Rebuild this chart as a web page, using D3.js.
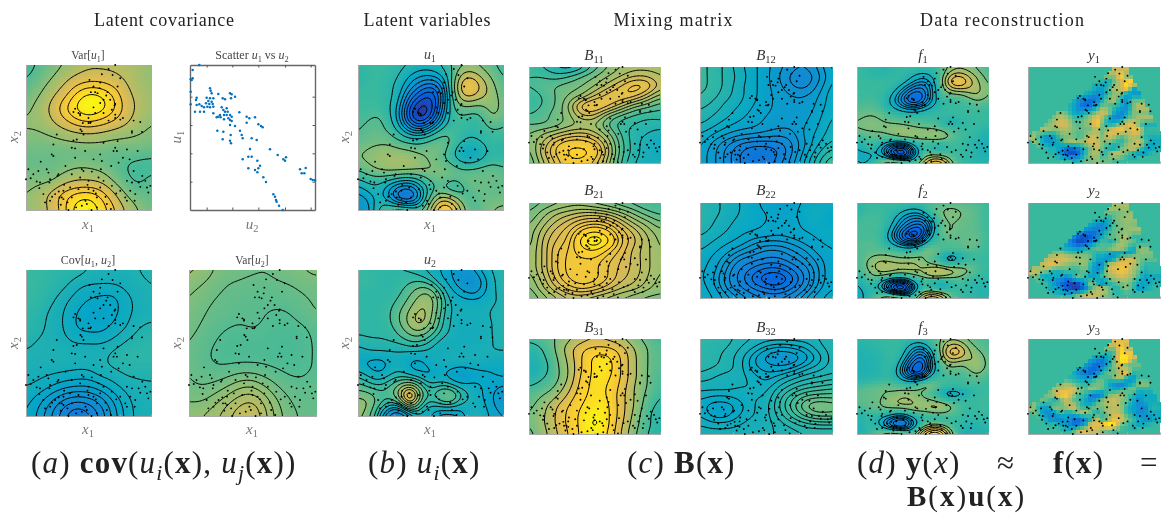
<!DOCTYPE html>
<html>
<head>
<meta charset="utf-8">
<script src="https://cdn.jsdelivr.net/npm/d3@7"></script>
<style>
html,body{margin:0;padding:0;background:#fff;}
svg{display:block;filter:blur(0.35px);font-family:"Liberation Serif",serif;}
</style>
</head>
<body>
<svg id="fig" width="1161" height="513"></svg>
<script>
// colour map stops (parula like)
var cmapStops = [0,0.125,0.25,0.375,0.5,0.625,0.75,0.875,1];
var cmapColors = ["#352a87","#0363e1","#1485d4","#06a7c6","#38b99e","#92bf73","#d9ba56","#fcce2e","#f9fb0e"];

// fields, rows top to bottom, values in percent of colour range
var varU1 = [
[50,54,58,62,66,69,69,69,68,66,62],
[53,57,62,68,74,77,77,74,70,66,63],
[57,61,68,76,88,95,93,86,74,68,64],
[60,65,73,85,95,100,97,89,77,69,65],
[63,64,69,76,83,86,83,78,72,66,62],
[60,60,61,63,65,66,65,63,62,61,60],
[57,57,57,57,57,57,57,56,56,56,55],
[57,57,57,59,61,61,59,56,53,51,51],
[60,60,61,67,71,71,69,61,55,52,55],
[62,66,74,84,90,92,86,74,62,57,56],
[64,66,73,84,97,100,92,82,70,62,58]];
var varU1Levels = [53,62,71,80,87,94];

var covU = [
[50,49,48,47,46,44,43,43,43,44,45],
[50,49,47,45,42,41,41,41,42,43,44],
[49,48,45,42,40,38,37,37,40,42,43.5],
[48,46,43,41,38,36,36,37,40,42,43],
[47,45,43,41,38,37,37,39,41,44,45],
[44.5,43.5,43,42,41,41,41,42,44.5,46,47],
[43.5,43.5,43.5,43.5,43,43,43,45.5,47,47.5,47.5],
[42.5,42,41.5,41,40.5,40.5,42.5,43,44.5,45,45],
[41,40,38,36,35,35,37,40,42,43,43.5],
[39,36,32,28,26,27,30,35,40,42,43],
[38,34,29,24,20,22,27,33,39,42,43]];
var covULevels = [44,41,38,35,32,29,26,23];

var varU2 = [
[64,62,60,58.5,58,57.5,57.2,58,59,60,61],
[61,60,58.5,57,56.5,56,56,56.5,57,58,58.5],
[60,58.5,57,56,55.5,55,55,55,55.5,56.5,57.5],
[59,57.5,56,55.5,55,55,54,53.5,54,55.5,57],
[58,56.5,55,54,53.5,54,53.5,53,53,53.5,55],
[57,55.5,54,53,53,53,53,52.5,52.5,53,54.5],
[57,55,53.5,53,53,53,53,52.5,52.5,53,54.5],
[57,56,55,55.5,56.5,56.5,55.5,54.5,53.5,53.5,54.5],
[57.5,57,58,60,62.5,63,60,57,55.5,55,56],
[60,60,62,65,68,69,65,60,57,56,56],
[62,63,65,68,71,72,67,61.5,58,56.5,56.5]];
var varU2Levels = [54,57,60,63,66,69];

var latentU1 = [
[48,50,50,49,48,46,44,44,46,54,58,60,58,54,50],
[46,49,50,49,46,40,36,36,40,50,70,72,64,58,52],
[48,50,50,47,44,34,26,20,28,52,80,84,72,62,54],
[50,50,50,48,42,24,14,8,22,50,74,76,68,64,56],
[50,50,50,47,38,14,4,4,26,50,60,58,58,64,57],
[52,52,54,48,36,10,0,8,32,50,52,50,52,62,56],
[52,54,56,50,42,26,18,30,44,50,50,48,50,55,52],
[54,56,56,56,50,46,46,50,56,54,48,46,48,50,50],
[58,60,62,62,60,58,56,60,58,50,42,40,44,48,46],
[60,62,64,66,66,66,62,58,54,48,40,38,44,50,48],
[54,58,62,64,64,64,62,62,60,58,54,54,56,56,54],
[46,50,50,48,44,42,48,54,58,54,56,58,56,58,56],
[36,42,44,34,24,22,34,50,54,46,50,56,58,54,56],
[32,34,44,36,20,16,32,56,74,70,56,52,56,58,58],
[30,32,48,56,62,60,52,68,92,88,66,52,58,60,62]];
var latentU1Levels = [5,10,15,20,25,30,35,40,46,53,60,67,74,81,88];

var latentU2 = [
[50,48,48,48,47,46,44,41,38,34,30,34,40,44,46],
[50,50,48,47,48,50,50,46,38,36,28,26,34,42,46],
[48,48,48,47,50,54,60,60,48,38,36,30,36,42,46],
[48,48,48,49,52,58,64,66,52,42,40,40,40,42,44],
[48,48,48,50,56,62,68,64,50,42,42,42,42,44,45],
[48,48,48,50,56,64,70,62,48,42,41,41,41,43,45],
[48,48,48,48,52,58,60,54,46,42,41,41,42,43,45],
[44,46,46,47,47,50,50,45,40,41,41,41,41,43,44],
[40,42,42,42,42,41,41,41,41,42,42,42,43,43,43],
[38,36,34,38,42,37,36,40,42,42,42,42,41,39,38],
[46,42,38,42,44,40,38,36,38,34,30,34,36,38,40],
[52,48,46,50,56,62,52,42,46,42,38,40,38,36,34],
[60,60,54,54,64,92,62,50,60,62,48,42,38,34,30],
[64,62,52,44,42,70,48,42,44,46,40,42,40,34,32],
[62,58,44,24,14,30,42,38,30,30,34,44,42,36,34]];
var latentU2Levels = [22,28,34,38,43,47,51,56,61,66,70,74,78,82];

var mixB11 = [
[50,48,44,42,46,54,60,64,66,66,66],
[52,52,50,52,56,60,64,68,72,72,68],
[52,54,56,58,60,64,70,76,82,80,70],
[50,52,56,60,64,72,78,80,78,70,62],
[50,52,56,64,78,82,78,70,62,58,54],
[52,54,58,62,72,72,62,56,52,50,50],
[56,56,58,62,64,64,56,50,48,46,46],
[60,64,68,72,74,70,62,52,46,44,42],
[60,68,78,84,84,80,68,54,46,42,40],
[58,70,80,88,90,84,70,54,46,42,40],
[56,66,76,84,84,78,66,52,44,42,42]];
var mixB11Levels = [44,48,52,56,60,64,68,72,76,80,87];

var mixB12 = [
[50,48,45,41,38,35,32,29,28,32,38],
[50,48,45,42,38,35,31,27,26,30,37],
[50,48,45,41,38,35,32,28,27,32,38],
[49,47,44,41,38,35,33,31,31,34,39],
[47,45,42,40,37,35,33,32,32,35,39],
[45,43,41,38,36,34,33,32,33,36,40],
[43,41,38,36,35,33,32,32,34,37,41],
[40,37,34,32,31,30,29,30,35,38,42],
[38,33,29,25,23,23,24,28,34,40,44],
[36,32,27,22,20,20,22,28,36,43,48],
[36,32,27,22,20,20,24,30,38,46,52]];
var mixB12Levels = [22,25,28,31,34,37,40,43,46,49];

var mixB21 = [
[56,58,60,62,62,60,58,56,54,52,52],
[58,62,66,68,70,70,68,64,60,56,54],
[60,65,70,74,78,80,78,72,66,62,58],
[62,68,74,78,86,90,86,78,72,66,62],
[62,70,76,80,92,98,92,80,74,68,63],
[64,70,78,82,88,90,84,78,72,68,64],
[64,70,78,83,84,84,80,76,72,68,64],
[64,70,78,83,84,83,79,75,72,68,64],
[62,68,76,82,84,83,79,74,71,67,63],
[60,66,72,77,80,78,74,70,68,65,62],
[58,62,66,70,70,68,66,64,62,60,60]];
var mixB21Levels = [55,58,61,64,67,70,73,76,79,82,85,90,94];

var mixB22 = [
[46,44,42,40,38,36,34,35,38,39,40],
[46,44,42,40,38,37,36,36,39,40,37],
[46,43,41,39,38,37,36,36,38,39,37],
[44,42,40,38,37,36,35,36,37,38,39],
[42,40,38,36,33,32,32,33,35,37,38],
[40,38,35,32,30,28,28,30,32,35,37],
[39,36,32,28,26,24,24,27,30,33,36],
[38,35,30,25,21,18,18,22,27,32,36],
[38,34,29,24,18,14,13,18,26,32,36],
[39,35,30,26,22,19,18,22,28,33,37],
[40,37,33,30,27,25,25,28,32,36,39]];
var mixB22Levels = [16,19,22,25,28,30,32,34,37,40,43];

var mixB31 = [
[52,54,58,64,70,74,72,68,60,56,52],
[46,50,58,70,80,84,84,78,66,58,54],
[44,48,56,68,82,92,92,82,68,58,54],
[42,46,55,66,82,92,94,82,68,58,54],
[45,49,55,66,84,92,92,82,68,58,52],
[50,53,58,70,86,92,90,80,66,58,52],
[54,58,64,76,88,92,90,78,66,56,50],
[56,62,72,82,90,94,92,78,66,54,48],
[58,64,74,84,92,98,92,78,64,52,46],
[58,64,74,84,92,100,92,76,62,52,46],
[56,62,72,82,92,96,90,74,60,50,46]];
var mixB31Levels = [50,58,66,74,82,90,98];

var mixB32 = [
[47,47,46,44,43,42,42,42,42,43,45],
[47,46,45,43,41,38,36,37,39,42,44],
[47,46,44,42,38,33,30,31,36,40,44],
[46,45,44,42,38,36,35,37,40,42,44],
[44,43,42,42,40,38,40,42,44,45,46],
[42,42,42,41,41,40,43,46,48,49,50],
[40,39,39,40,41,41,46,50,53,54,54],
[38,36,36,38,41,42,47,52,57,59,58],
[39,36,36,39,41,42,46,50,54,56,56],
[41,40,40,41,42,42,44,46,48,49,49],
[42,42,42,42,42,43,43,44,45,45,45]];
var mixB32Levels = [31,34,37,39,41,43,45,47,49,51,53,55,57];

var reconF1 = [
[50,48,47,46,48,50,50,50,50,52,60,62,60,56,52],
[50,48,46,46,48,48,44,40,44,52,68,72,66,60,54],
[50,50,50,50,50,46,38,32,38,54,82,86,74,64,56],
[50,50,50,50,46,36,26,22,34,54,70,74,70,66,58],
[50,50,50,48,40,26,16,18,34,52,56,56,62,66,57],
[52,52,52,46,36,22,12,20,36,48,50,50,54,58,54],
[54,54,54,48,42,36,32,38,44,48,50,50,50,52,50],
[56,58,58,54,50,48,48,48,50,50,50,50,50,50,50],
[58,60,60,58,56,55,54,52,52,48,40,46,50,50,50],
[58,60,60,60,64,62,60,58,58,54,50,50,50,48,46],
[52,54,56,56,60,66,64,66,66,68,58,52,50,46,44],
[44,50,52,44,38,36,50,50,52,50,52,50,48,44,42],
[40,48,46,26,14,8,30,52,44,42,50,50,48,44,42],
[42,34,44,36,12,4,30,52,62,60,52,50,48,44,44],
[44,42,54,64,72,66,54,66,84,84,62,50,48,46,46]];

var reconF2 = [
[48,50,50,50,50,50,50,50,52,54,54,54,54,52,50],
[44,50,50,50,48,44,40,44,54,58,60,58,56,54,50],
[50,52,52,50,44,34,30,30,46,56,62,58,56,54,50],
[52,52,52,50,40,28,22,20,36,54,58,56,56,54,50],
[52,52,52,48,34,20,12,12,36,56,60,56,56,54,50],
[52,52,52,46,30,14,4,20,44,52,56,54,56,56,50],
[54,54,54,48,40,30,28,38,52,52,54,54,60,54,50],
[52,54,54,54,52,50,50,58,62,52,52,52,52,52,50],
[52,56,60,60,58,56,56,58,54,46,34,42,50,50,50],
[52,58,66,68,66,66,68,60,56,50,44,50,52,50,50],
[50,56,64,68,66,64,64,66,74,78,70,66,60,52,50],
[46,52,58,52,44,44,54,56,62,60,58,56,50,48,48],
[40,50,46,24,12,6,32,50,40,34,44,52,48,46,46],
[38,44,48,38,14,6,34,54,58,52,50,50,48,46,46],
[38,44,54,68,72,64,52,78,86,80,58,50,48,46,46]];

var reconF3 = [
[48,48,48,50,50,50,48,48,52,58,62,60,56,54,52],
[45,46,47,49,50,46,38,36,48,60,74,72,60,56,52],
[44,45,46,48,50,44,30,24,40,60,84,80,64,60,54],
[44,44,45,48,50,38,22,14,36,58,70,66,64,64,54],
[44,44,45,48,48,30,14,10,36,52,60,56,60,66,54],
[44,44,45,48,46,28,12,16,40,50,54,52,56,60,52],
[46,46,48,50,48,40,36,40,52,52,50,50,52,54,50],
[52,54,56,58,56,54,54,62,62,50,50,50,50,50,50],
[54,56,56,58,58,62,60,56,50,42,36,38,44,50,50],
[54,56,56,60,64,66,64,60,58,52,46,48,50,50,52],
[54,56,56,60,62,64,64,66,68,68,62,52,50,50,50],
[44,48,52,50,44,42,54,52,56,58,54,50,48,50,50],
[44,50,44,32,22,18,34,50,44,44,50,50,46,48,48],
[44,46,50,36,20,18,36,56,70,68,52,48,44,46,46],
[44,46,54,64,72,64,54,82,100,94,64,44,42,44,46]];
var reconLevels = [8,12,16,20,24,28,32,36,42,58,64,70,76,82,88,94];

// observed data, 22 x 16 raster, each row starts at dataRowStart
var dataRowStart = [15,14,12,10,8,6,5,4,3,2,1,0,1,2,4,6];
var dataY1 = [
[72],
[62,86,60],
[44,40,60,70,88],
[48,38,36,52,66,72,84,44],
[46,42,36,28,34,50,62,58,38,34],
[50,44,30,22,18,24,46,60,64,42,32,54],
[52,46,40,26,18,22,40,58,54,48,40,30,56,70],
[56,60,54,40,34,40,46,60,72,62,40,26,36,58,60],
[54,62,70,66,52,50,56,66,80,64,42,28,30,52,60,66],
[56,60,68,74,72,58,54,60,64,84,56,44,48,62,74,78,60,44],
[60,66,62,58,64,66,60,56,58,60,70,56,70,78,82,70,78,80,50],
[70,56,40,32,40,56,60,58,52,60,72,70,60,74,66,56,62,70,64,48,44],
[60,40,32,36,46,60,64,62,66,74,72,60,58,52,48,58,66,72,52,40],
[52,44,42,34,22,18,28,46,60,72,56,44,42,56,66,70,60,40,36,44],
[46,30,14,10,20,44,62,66,48,58,70,66,54,44,36,38,48,50],
[50,40,44,56,58,62,56,58,50,46]];
var dataY2 = [
[66],
[58,60,62],
[48,44,56,60,64],
[40,30,28,40,54,60,62,60],
[44,30,24,22,30,44,56,58,62,64],
[46,30,16,10,14,24,42,54,56,62,66,50],
[48,34,18,8,12,22,38,52,44,50,64,60,56,48],
[50,44,40,34,30,38,46,56,54,58,66,66,56,40,60],
[58,60,64,56,52,52,56,52,44,46,40,34,38,36,42,60],
[66,70,72,74,72,68,64,62,56,40,36,30,44,66,72,74,60,56],
[60,70,76,74,68,62,58,60,62,46,30,32,66,74,80,78,70,60,48],
[72,70,62,56,44,46,52,48,50,56,42,30,44,68,76,82,78,66,56,44,48],
[56,40,38,40,36,28,42,56,46,36,40,52,62,68,74,70,62,50,36,40],
[54,44,30,18,12,8,14,36,60,44,30,44,54,58,62,52,40,36,42,46],
[40,30,16,8,10,24,50,66,70,58,44,52,60,50,34,42,46,50],
[46,50,60,70,72,70,62,58,50,48]];
var dataY3 = [
[78],
[62,88,70],
[46,44,56,90,84],
[36,26,24,40,60,92,92,62],
[44,34,22,16,26,42,62,70,58,56],
[48,42,28,22,16,24,44,56,58,72,80,50],
[56,48,46,40,34,36,50,54,50,60,66,42,34,50],
[56,60,66,58,50,48,52,58,56,40,30,26,34,44,60],
[52,66,70,74,78,66,54,62,58,52,46,40,44,54,60,46],
[56,60,68,82,84,66,52,48,28,22,32,56,62,66,54,46,36,40],
[60,56,52,44,56,70,58,50,40,30,44,62,70,74,62,56,42,28,40],
[70,50,38,40,62,58,66,74,54,46,50,60,58,66,70,64,46,36,30,26,44],
[56,34,28,36,52,42,46,60,66,56,44,56,66,72,66,48,38,28,30,40],
[50,30,28,26,36,22,20,28,44,70,50,62,80,76,60,50,38,30,32,42],
[48,40,32,22,26,40,74,78,82,98,86,60,52,44,40,44,48,50],
[50,52,70,76,72,72,60,56,50,48]];
// outline of the observed area in the y panels, fractions of the panel
var dataMaskX = [0.67,0.75,0.85,0.97,1,1,0.67,0.39,0.19,0,0.03,0.32];
var dataMaskY = [0,0.02,0.3,0.61,0.75,0.89,0.98,1,0.94,0.73,0.7,0.37];

var dotX1 = [345,325,305,337,300,280,298,352,360,285,292,322,318,310,330,345,343,272,300,280,285,235,240,225,220,265,272,265,270,248,240,310,335,325,345,345,360,368,245,250,230,220,170,160,155,215,225,255,310,395,400,420,395,425,345,350,340,380,412,300,305,280,225,160,122,85,115,140,145,175,172,245,250,275,215,355,400,78,110,120,150,240,265,295,310,380,395,415,420,440,450,435,405,390,360,335,300,280,265,235,210,190,165,178,185,190,130,150,135,215,245,290,260,320,380,205,228,256,287,316,348,375,192,176,262,333,302,352,268,241,196,148,100,92,118,368,388,426,444,403,332,290,274,202,182,156];
var dotX2 = [90,102,118,120,143,155,160,155,130,172,175,172,182,195,195,208,212,172,205,218,235,235,238,222,232,250,262,265,265,265,242,235,225,258,240,250,255,250,290,300,315,318,300,330,360,340,342,350,325,290,258,262,295,292,340,350,350,345,350,360,380,375,370,365,382,405,410,405,415,420,425,405,410,412,420,385,410,435,442,445,435,430,440,430,440,440,445,445,458,460,455,440,480,470,470,455,460,470,465,465,460,470,480,490,490,495,480,500,505,490,515,490,510,510,500,528,520,500,478,488,478,490,452,472,452,395,405,320,135,285,395,445,420,432,462,370,375,425,475,500,525,520,528,505,512,488];

// scatter u2 vs u1
var scatterU2 = [598,578,572,578,575,572,590,588,630,632,635,655,690,695,705,668,675,693,620,630,640,625,635,618,628,638,622,630,640,572,590,598,605,612,585,600,612,640,665,680,670,675,683,660,650,655,662,672,680,690,695,685,690,695,672,718,740,748,765,690,705,740,775,783,788,652,670,720,692,725,728,755,770,668,690,693,750,810,833,858,850,855,745,755,728,772,745,780,775,765,772,790,798,900,917,905,913,932,945,938,820,825,828,830,837,848];
var scatterU1 = [195,210,238,235,240,275,293,300,265,272,280,282,280,283,290,295,298,295,293,295,295,303,305,310,312,312,320,322,320,313,315,313,318,322,335,335,335,340,322,325,330,335,335,345,352,350,352,345,345,345,350,355,360,363,358,337,350,355,352,375,378,368,373,378,382,392,395,392,405,405,415,415,420,418,422,430,447,448,465,472,478,482,470,470,478,482,505,497,505,510,517,532,546,508,504,520,520,537,541,540,583,590,600,605,617,630];
var scatterTicksU2 = [620,697,775,855,932];
var scatterTicksU1 = [290,375,460,545];

var svg = d3.select("#fig");
var color = d3.scaleLinear().domain(cmapStops).range(cmapColors);
var BG_VALUE = 50;
var clipCount = 0;

function clamp(i,n){return Math.max(0,Math.min(n-1,i));}

// catmull-rom lookup in a coarse grid, u and v in 0..1
function lookup(grid,u,v){
	var ny = grid.length, nx = grid[0].length;
	var fx = Math.max(0,Math.min(1,u))*(nx-1), fy = Math.max(0,Math.min(1,v))*(ny-1);
	var ix = Math.floor(fx), iy = Math.floor(fy), tx = fx-ix, ty = fy-iy;
	function cr(a,b,c,d,t){return b+0.5*t*(c-a+t*(2*a-5*b+4*c-d+t*(3*(b-c)+d-a)));}
	var col = [];
	for(var j=-1;j<=2;j++){
		var row = grid[clamp(iy+j,ny)];
		col.push(cr(row[clamp(ix-1,nx)],row[clamp(ix,nx)],row[clamp(ix+1,nx)],row[clamp(ix+2,nx)],tx));
	}
	return cr(col[0],col[1],col[2],col[3],ty);
}

function addAxes(g,b,x,y){
	g.append("g").attr("transform","translate(0,"+b.y1+")")
		.call(d3.axisBottom(x).tickValues([0.25,0.5,0.75]).tickSize(-1.5).tickFormat(""))
		.call(function(a){a.selectAll("path,line").attr("stroke","#aaa");});
	g.append("g").attr("transform","translate("+b.x0+",0)")
		.call(d3.axisLeft(y).tickValues([0.25,0.5,0.75]).tickSize(-1.5).tickFormat(""))
		.call(function(a){a.selectAll("path,line").attr("stroke","#aaa");});
}

function addDots(g,b){
	var dx = d3.scaleLinear().domain([78,452]).range([b.x0,b.x1]);
	var dy = d3.scaleLinear().domain([90,528]).range([b.y0,b.y1]);
	g.append("g").selectAll("circle").data(dotX1).join("circle")
		.attr("cx",function(d){return dx(d);})
		.attr("cy",function(d,i){return dy(dotX2[i]);})
		.attr("r",0.95)
		.attr("fill","#000");
}

function heatPanel(b,grid,levels){
	var g = svg.append("g");
	var x = d3.scaleLinear().domain([0,1]).range([b.x0,b.x1]);
	var y = d3.scaleLinear().domain([0,1]).range([b.y0,b.y1]);

	// fine field, goes a bit past the panel so contour polygon borders get clipped away
	var N = 96, pad = 8, M = N+2*pad, vals = new Float64Array(M*M);
	for(var jj=0;jj<M;jj++){
		for(var ii=0;ii<M;ii++){
			vals[jj*M+ii] = lookup(grid,(ii-pad)/(N-1),(jj-pad)/(N-1));
		}
	}
	d3.blur2({data:vals,width:M,height:M},3);

	var nx = Math.round((b.x1-b.x0)/3), ny = Math.round((b.y1-b.y0)/3);
	var cells = [];
	for(var j=0;j<ny;j++){
		for(var i=0;i<nx;i++){
			var si = pad+Math.round((i+0.5)/nx*(N-1)), sj = pad+Math.round((j+0.5)/ny*(N-1));
			cells.push({i:i,j:j,v:vals[sj*M+si]});
		}
	}
	g.append("g").attr("shape-rendering","crispEdges").selectAll("rect").data(cells).join("rect")
		.attr("x",function(d){return x(d.i/nx);})
		.attr("y",function(d){return y(d.j/ny);})
		.attr("width",(b.x1-b.x0)/nx+0.5)
		.attr("height",(b.y1-b.y0)/ny+0.5)
		.attr("fill",function(d){return color(d.v/100);});

	var conts = d3.contours().size([M,M]).thresholds(levels)(Array.from(vals));
	var path = d3.geoPath(d3.geoTransform({point:function(px,py){
		this.stream.point(x((px-0.5-pad)/(N-1)),y((py-0.5-pad)/(N-1)));
	}}));
	var id = "clip"+(clipCount++);
	g.append("clipPath").attr("id",id).append("rect")
		.attr("x",b.x0).attr("y",b.y0).attr("width",b.x1-b.x0).attr("height",b.y1-b.y0);
	g.append("g").attr("clip-path","url(#"+id+")").selectAll("path").data(conts).join("path")
		.attr("d",path)
		.attr("fill","none")
		.attr("stroke","#000")
		.attr("stroke-width",1);
	addAxes(g,b,x,y);
	addDots(g,b);
}

function blockPanel(b,rows){
	var g = svg.append("g");
	var x = d3.scaleLinear().domain([0,1]).range([b.x0,b.x1]);
	var y = d3.scaleLinear().domain([0,1]).range([b.y0,b.y1]);
	g.append("rect").attr("x",b.x0).attr("y",b.y0).attr("width",b.x1-b.x0).attr("height",b.y1-b.y0)
		.attr("fill",color(BG_VALUE/100));
	// fill the raster to a full table, nearest edge value outside the listed run
	var full = rows.map(function(r,j){
		var out = [];
		for(var i=0;i<22;i++){out.push(r[clamp(i-dataRowStart[j],r.length)]);}
		return out;
	});
	var mask = dataMaskX.map(function(v,i){return [v,dataMaskY[i]];});
	var nx = Math.round((b.x1-b.x0)/4), ny = Math.round((b.y1-b.y0)/4);
	var cells = [];
	for(var j=0;j<ny;j++){
		for(var i=0;i<nx;i++){
			var u = (i+0.5)/nx, v = (j+0.5)/ny;
			if(d3.polygonContains(mask,[u,v])){
				// raster values sit at cell middles
				var gu = (u*22-0.5)/21, gv = (v*16-0.5)/15;
				cells.push({i:i,j:j,v:lookup(full,gu,gv)});
			}
		}
	}
	g.append("g").attr("shape-rendering","crispEdges").selectAll("rect").data(cells).join("rect")
		.attr("x",function(d){return x(d.i/nx);})
		.attr("y",function(d){return y(d.j/ny);})
		.attr("width",(b.x1-b.x0)/nx+0.5)
		.attr("height",(b.y1-b.y0)/ny+0.5)
		.attr("fill",function(d){return color(d.v/100);});
	addAxes(g,b,x,y);
	addDots(g,b);
}

function scatterPanel(b){
	var g = svg.append("g");
	var x = d3.scaleLinear().domain([570,945]).range([b.x0,b.x1]);
	var y = d3.scaleLinear().domain([195,630]).range([b.y0,b.y1]);
	function style(a){a.selectAll("path").attr("stroke","#666").attr("stroke-width",1.4);a.selectAll("line").attr("stroke","#555");}
	g.append("g").attr("transform","translate(0,"+b.y1+")")
		.call(d3.axisBottom(x).tickValues(scatterTicksU2).tickSize(-2.5).tickFormat("").tickSizeOuter(0)).call(style);
	g.append("g").attr("transform","translate(0,"+b.y0+")")
		.call(d3.axisTop(x).tickValues(scatterTicksU2).tickSize(-2.5).tickFormat("").tickSizeOuter(0)).call(style);
	g.append("g").attr("transform","translate("+b.x0+",0)")
		.call(d3.axisLeft(y).tickValues(scatterTicksU1).tickSize(-2.5).tickFormat("").tickSizeOuter(0)).call(style);
	g.append("g").attr("transform","translate("+b.x1+",0)")
		.call(d3.axisRight(y).tickValues(scatterTicksU1).tickSize(-2.5).tickFormat("").tickSizeOuter(0)).call(style);
	g.append("g").selectAll("circle").data(scatterU2).join("circle")
		.attr("cx",function(d){return x(d);})
		.attr("cy",function(d,i){return y(scatterU1[i]);})
		.attr("r",1.25)
		.attr("fill","#0072bd");
}

// text made of runs: r roman, i italic, b bold, s italic subscript, n roman subscript
function mathText(px,py,size,fill,anchor,parts,rotate,spacing){
	var t = svg.append("text").attr("font-size",size).attr("fill",fill).attr("text-anchor",anchor);
	if(spacing){t.attr("letter-spacing",spacing);}
	t.attr("xml:space","preserve").style("white-space","pre");
	if(rotate){t.attr("transform","translate("+px+","+py+") rotate(-90)");}
	else{t.attr("x",px).attr("y",py);}
	var low = false;
	parts.forEach(function(p){
		var s = t.append("tspan").text(p[0]);
		var k = p[1];
		if(k=="i"||k=="s"){s.attr("font-style","italic");}
		if(k=="b"){s.attr("font-weight","bold");}
		if(k=="s"||k=="n"){
			s.attr("font-size",size*0.7);
			if(!low){s.attr("dy",size*0.22);low=true;}
		}
		else if(low){s.attr("dy",-size*0.22);low=false;}
	});
	return t;
}

var boxVarU1 = {x0:26,x1:151,y0:65,y1:210};
var boxScatter = {x0:190,x1:315,y0:65,y1:210};
var boxCov = {x0:26,x1:151,y0:270,y1:416};
var boxVarU2 = {x0:189,x1:316,y0:270,y1:416};
var boxU1 = {x0:358,x1:503,y0:65,y1:210};
var boxU2 = {x0:358,x1:503,y0:270,y1:416};
var rowTop = [67,203,339], rowBottom = [163,298,434];
function colBox(x0,x1,r){return {x0:x0,x1:x1,y0:rowTop[r],y1:rowBottom[r]};}

heatPanel(boxVarU1,varU1,varU1Levels);
scatterPanel(boxScatter);
heatPanel(boxCov,covU,covULevels);
heatPanel(boxVarU2,varU2,varU2Levels);
heatPanel(boxU1,latentU1,latentU1Levels);
heatPanel(boxU2,latentU2,latentU2Levels);
heatPanel(colBox(529,660,0),mixB11,mixB11Levels);
heatPanel(colBox(700,832,0),mixB12,mixB12Levels);
heatPanel(colBox(529,660,1),mixB21,mixB21Levels);
heatPanel(colBox(700,832,1),mixB22,mixB22Levels);
heatPanel(colBox(529,660,2),mixB31,mixB31Levels);
heatPanel(colBox(700,832,2),mixB32,mixB32Levels);
heatPanel(colBox(857,988,0),reconF1,reconLevels);
heatPanel(colBox(857,988,1),reconF2,reconLevels);
heatPanel(colBox(857,988,2),reconF3,reconLevels);
blockPanel(colBox(1028,1160,0),dataY1);
blockPanel(colBox(1028,1160,1),dataY2);
blockPanel(colBox(1028,1160,2),dataY3);

// section headers
var headers = [["Latent covariance",164,140],["Latent variables",427,127],["Mixing matrix",673,119],["Data reconstruction",1002,164]];
headers.forEach(function(h){
	svg.append("text").attr("x",h[1]).attr("y",26).attr("text-anchor","middle").attr("font-size",18)
		.attr("fill","#222").attr("textLength",h[2]).attr("lengthAdjust","spacing").text(h[0]);
});

var soft = "#444", axisInk = "#777";
// panel titles
mathText(88,59,11.5,soft,"middle",[["Var[","r"],["u","i"],["1","n"],["]","r"]]);
mathText(252,59,12,soft,"middle",[["Scatter ","r"],["u","i"],["1","n"],[" vs ","r"],["u","i"],["2","n"]]);
mathText(88,264,12,soft,"middle",[["Cov[","r"],["u","i"],["1","n"],[", ","r"],["u","i"],["2","n"],["]","r"]]);
mathText(252,264,11.5,soft,"middle",[["Var[","r"],["u","i"],["2","n"],["]","r"]]);
mathText(430,59,14,soft,"middle",[["u","i"],["1","n"]]);
mathText(430,264,14,soft,"middle",[["u","i"],["2","n"]]);

var mixTitles = [["11","12"],["21","22"],["31","32"]];
var fTitles = ["1","2","3"];
var titleY = [60,195,332];
mixTitles.forEach(function(r,i){
	mathText(594,titleY[i],15,"#333","middle",[["B","i"],[r[0],"n"]]);
	mathText(766,titleY[i],15,"#333","middle",[["B","i"],[r[1],"n"]]);
	mathText(923,titleY[i],15,"#333","middle",[["f","i"],[fTitles[i],"n"]]);
	mathText(1094,titleY[i],15,"#333","middle",[["y","i"],[fTitles[i],"n"]]);
});

// axis labels
[[88,229],[88,434],[252,434],[430,229],[430,434]].forEach(function(p){
	mathText(p[0],p[1],15,axisInk,"middle",[["x","i"],["1","n"]]);
});
[[18,137],[18,343],[181,343],[349,137],[349,343]].forEach(function(p){
	mathText(p[0],p[1],15,axisInk,"middle",[["x","i"],["2","n"]],true);
});
mathText(252,229,15,axisInk,"middle",[["u","i"],["2","n"]]);
mathText(181,137,15,axisInk,"middle",[["u","i"],["1","n"]],true);

// sub figure captions
var capInk = "#222", capSize = 31, capGap = 1.2, capY = 473;
mathText(31,capY,capSize,capInk,"start",[["(","r"],["a","i"],[") ","r"],["cov","b"],["(","r"],["u","i"],["i","s"],["(","r"],["x","b"],["), ","r"],["u","i"],["j","s"],["(","r"],["x","b"],["))","r"]],false,capGap);
mathText(368,capY,capSize,capInk,"start",[["(","r"],["b","i"],[") ","r"],["u","i"],["i","s"],["(","r"],["x","b"],[")","r"]],false,capGap);
mathText(627,capY,capSize,capInk,"start",[["(","r"],["c","i"],[") ","r"],["B","b"],["(","r"],["x","b"],[")","r"]],false,capGap);
mathText(857,capY,capSize,capInk,"start",[["(","r"],["d","i"],[") ","r"],["y","b"],["(","r"],["x","i"],[")","r"]],false,capGap);
mathText(997,capY,capSize,capInk,"start",[["≈","r"]]);
mathText(1053,capY,capSize,capInk,"start",[["f","b"],["(","r"],["x","b"],[")","r"]],false,capGap);
mathText(1140,capY,capSize,capInk,"start",[["=","r"]]);
mathText(907,506,29,capInk,"start",[["B","b"],["(","r"],["x","b"],[")","r"],["u","b"],["(","r"],["x","b"],[")","r"]],false,2);
</script>
</body>
</html>
